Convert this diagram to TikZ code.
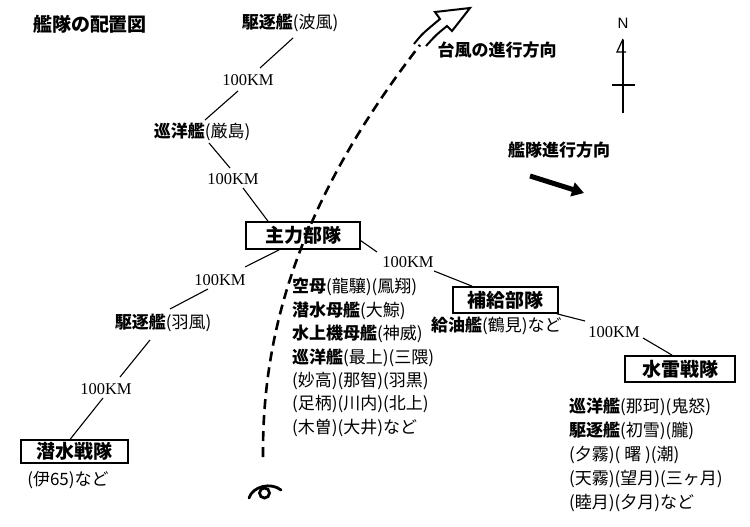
\documentclass[tikz,border=0pt]{standalone}
\usepackage{fontspec}
\newfontfamily\jp{Noto Sans CJK JP}
\newfontfamily\kmf{Liberation Serif}
\newfontfamily\nf{Liberation Sans}
\usetikzlibrary{arrows.meta}
\begin{document}
\begin{tikzpicture}[x=1pt,y=-1pt,
  txt/.style={font=\jp\fontsize{17}{17}\selectfont, inner sep=1pt},
  bold/.style={font=\jp\bfseries\fontsize{17}{17}\selectfont, inner sep=1pt},
  km/.style={font=\kmf\fontsize{16.5}{16.5}\selectfont, inner sep=1pt},
  unit/.style={draw, line width=1.6pt, font=\jp\bfseries\fontsize{19}{19}\selectfont, inner sep=0pt},
  conn/.style={line width=1.1pt},
]
\useasboundingbox (0,0) rectangle (750,527);

% title and labels
\node[bold, font=\jp\bfseries\fontsize{19}{19}\selectfont] (title) at (90,24) {艦隊の配置図};
\node[bold] (typh) at (497,50) {台風の進行方向};
\node[bold] (fleet) at (559,150) {艦隊進行方向};
\node[font=\nf\fontsize{15}{15}\selectfont, inner sep=0pt] (north) at (623,23) {N};

% nodes
\node[txt] (d1) at (290,23) {\textbf{駆逐艦}(波風)};
\node[km] (k1) at (248,80) {100KM};
\node[txt] (c1) at (202,132) {\textbf{巡洋艦}(厳島)};
\node[km] (k2) at (233,179) {100KM};
\node[unit, minimum width=114pt, minimum height=27pt] (main) at (303,235.5) {主力部隊};
\node[km] (k3) at (408,262) {100KM};
\node[unit, minimum width=105pt, minimum height=26pt] (sup) at (505.5,300) {補給部隊};
\node[txt, anchor=west] (oil) at (430,326) {\textbf{給油艦}(鶴見)など};
\node[km] (k4) at (614,332) {100KM};
\node[unit, minimum width=110pt, minimum height=26pt] (tor) at (680,369) {水雷戦隊};
\node[km] (k5) at (220,280) {100KM};
\node[txt] (d2) at (163,323) {\textbf{駆逐艦}(羽風)};
\node[km] (k6) at (106,389) {100KM};
\node[unit, minimum width=107pt, minimum height=23pt] (sub) at (74.5,451.5) {潜水戦隊};
\node[txt] (i65) at (68,480) {(伊65)など};

% main force list
\node[txt, anchor=west] (m1) at (291,287) {\textbf{空母}(龍驤)(鳳翔)};
\node[txt, anchor=west] (m2) at (291,310.5) {\textbf{潜水母艦}(大鯨)};
\node[txt, anchor=west] (m3) at (291,334) {\textbf{水上機母艦}(神威)};
\node[txt, anchor=west] (m4) at (291,357.5) {\textbf{巡洋艦}(最上)(三隈)};
\node[txt, anchor=west] (m5) at (291,381) {(妙高)(那智)(羽黒)};
\node[txt, anchor=west] (m6) at (291,404.5) {(足柄)(川内)(北上)};
\node[txt, anchor=west] (m7) at (291,428) {(木曽)(大井)など};

% torpedo squadron list
\node[txt, anchor=west] (t1) at (568,407) {\textbf{巡洋艦}(那珂)(鬼怒)};
\node[txt, anchor=west] (t2) at (568,431) {\textbf{駆逐艦}(初雪)(朧)};
\node[txt, anchor=west] (t3) at (568,455) {(夕霧)( 曙 )(潮)};
\node[txt, anchor=west] (t4) at (568,479) {(天霧)(望月)(三ヶ月)};
\node[txt, anchor=west] (t5) at (568,503) {(睦月)(夕月)など};

% connectors
\draw[conn] ([shift={(3,15)}]d1.center) -- ([shift={(12,-12)}]k1.center);
\draw[conn] ([shift={(-10,11)}]k1.center) -- ([shift={(3,-12)}]c1.center);
\draw[conn] ([shift={(7,11)}]c1.center) -- ([shift={(-3,-11)}]k2.center);
\draw[conn] ([shift={(10,9)}]k2.center) -- ([shift={(-35,0)}]main.north);
\draw[conn] ([shift={(-1,4.5)}]main.east) -- ([shift={(-31,-10)}]k3.center);
\draw[conn] ([shift={(26,9)}]k3.center) -- ([shift={(20,0)}]sup.north west);
\draw[conn] ([shift={(34,0)}]main.south west) -- ([shift={(25,-13)}]k5.center);
\draw[conn] ([shift={(-12,9)}]k5.center) -- ([shift={(7,-14)}]d2.center);
\draw[conn] ([shift={(-13,17)}]d2.center) -- ([shift={(14,-12)}]k6.center);
\draw[conn] ([shift={(-3,9)}]k6.center) -- ([shift={(50,0)}]sub.north west);
\draw[conn] ([shift={(-2,0)}]sup.south east) -- ([shift={(-29,-11)}]k4.center);
\draw[conn] ([shift={(29,6)}]k4.center) -- ([shift={(48,0)}]tor.north west);

% compass
\draw[line width=1.2pt] (623,40) -- (623,113);
\draw[line width=1.2pt] (612,85) -- (635,85);
\draw[line width=1.2pt, line join=miter] (623,39) -- (617,52) -- (626,52);

% fleet direction arrow
\draw[line width=5pt, -{Triangle[length=12pt,width=14pt]}] (530,176) -- (584,193);

% typhoon track
\draw[line width=2.6pt, dash pattern=on 10pt off 6pt] (263,457) .. controls (262,330) and (300,200) .. (420,45);
\draw[line width=2pt, line join=miter] (414,44) .. controls (422,34) .. (440,19) -- (435,12) -- (470,8) -- (452,31) -- (447,26) .. controls (436,35) .. (426,46);

% typhoon symbol
\draw[line width=2.8pt] (264.5,493) circle (5);
\draw[line width=2.8pt, line cap=round] (249,498) .. controls (253,486) and (271,482) .. (281,490);
\end{tikzpicture}
\end{document}
